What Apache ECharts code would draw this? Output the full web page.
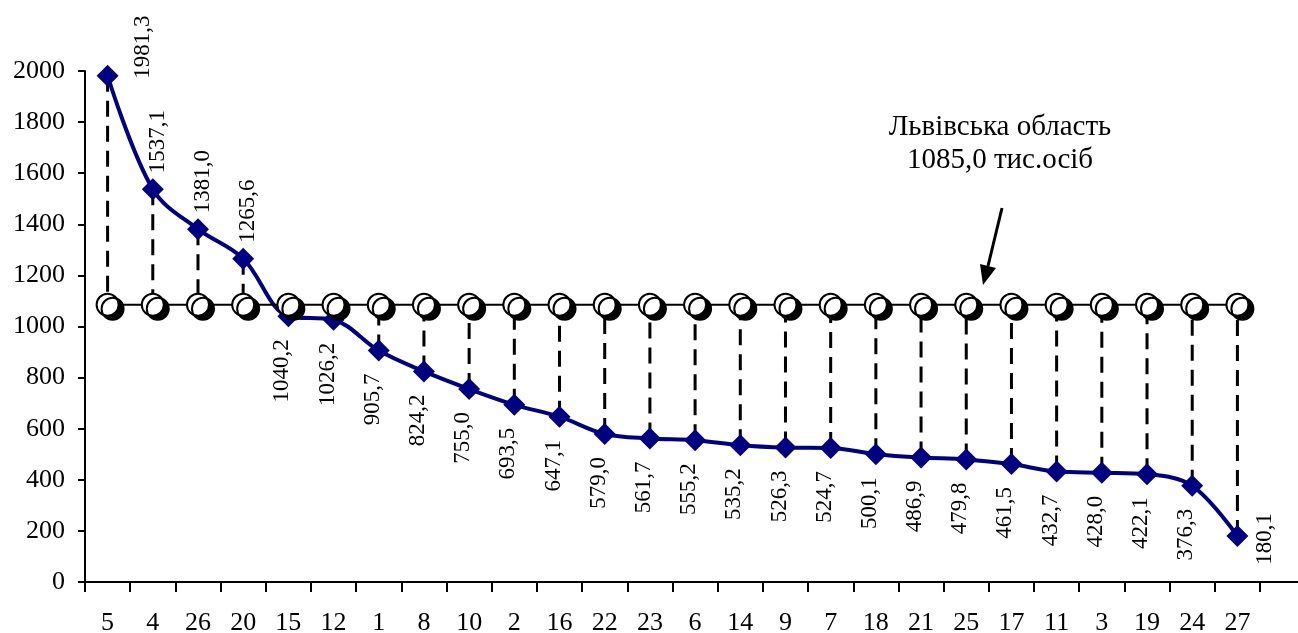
<!DOCTYPE html>
<html><head><meta charset="utf-8">
<script src="https://cdn.jsdelivr.net/npm/echarts@6/dist/echarts.min.js"></script>
<style>html,body{margin:0;padding:0;background:#fff}#c{width:1298px;height:633px}</style>
</head><body><div id="c"></div>
<script>
const categories = ['5','4','26','20','15','12','1','8','10','2','16','22','23','6','14','9','7','18','21','25','17','11','3','19','24','27'];
const values = [1981.3,1537.1,1381.0,1265.6,1040.2,1026.2,905.7,824.2,755.0,693.5,647.1,579.0,561.7,555.2,535.2,526.3,524.7,500.1,486.9,479.8,461.5,432.7,428.0,422.1,376.3,180.1];
const regionValue = 1085.0;
const annotationLines = ['Львівська область', '1085,0 тис.осіб'];
const yTicks = {min: 0, max: 2000, interval: 200};

const FONT = '"Liberation Serif", "DejaVu Serif", serif';
const regionLine = categories.map(() => regionValue);
const fmt = v => v.toFixed(1).replace('.', ',');

const labelData = values.map((v, i) => {
  let label;
  if (i === 0) {
    label = {position: 'right', rotate: 90, align: 'left', verticalAlign: 'middle', offset: [-3, 19]};
  } else if (v > regionValue) {
    label = {position: 'top', rotate: 90, align: 'left', verticalAlign: 'middle', offset: [0, 5]};
  } else if (i === values.length - 1) {
    label = {position: 'right', rotate: 90, align: 'center', verticalAlign: 'middle', offset: [-3, 12]};
  } else {
    label = {position: 'bottom', rotate: 90, align: 'right', verticalAlign: 'middle', offset: [-7, -6]};
  }
  return {value: v, label};
});

const chart = echarts.init(document.getElementById('c'));
chart.setOption({
  animation: false,
  grid: {left: 85, right: 38, top: 71, bottom: 51, containLabel: false, outerBoundsMode: 'none'},
  xAxis: {
    type: 'category', data: categories, boundaryGap: true,
    axisLine: {lineStyle: {color: '#000', width: 2}},
    axisTick: {show: true, length: 10, inside: false, lineStyle: {color: '#000', width: 2}},
    axisLabel: {color: '#000', fontFamily: FONT, fontSize: 26, margin: 28}
  },
  yAxis: {
    type: 'value', min: yTicks.min, max: yTicks.max, interval: yTicks.interval,
    splitLine: {show: false},
    axisLine: {show: true, lineStyle: {color: '#000', width: 2}},
    axisTick: {show: true, length: 7, lineStyle: {color: '#000', width: 2}},
    axisLabel: {color: '#000', fontFamily: FONT, fontSize: 26, margin: 20, formatter: v => String(v)}
  },
  series: [
    {
      type: 'custom', z: 1,
      data: values.map((v, i) => [i, v]),
      renderItem: (params, api) => {
        const i = api.value(0);
        const p1 = api.coord([i, api.value(1)]);
        const p2 = api.coord([i, regionValue]);
        return {type: 'line', shape: {x1: p1[0], y1: p1[1], x2: p2[0], y2: p2[1]},
          style: {stroke: '#000', lineWidth: 3, lineDash: [16, 9]}};
      }
    },
    {
      type: 'line', data: labelData, z: 3, smooth: 0.35,
      symbol: 'diamond', symbolSize: 22,
      lineStyle: {color: '#000080', width: 4},
      itemStyle: {color: '#000080'},
      label: {show: true, color: '#000', fontFamily: FONT, fontSize: 23,
        formatter: p => fmt(p.value)}
    },
    {
      type: 'line', data: regionLine, z: 4,
      symbol: 'circle', symbolSize: 22,
      lineStyle: {color: '#000', width: 2},
      itemStyle: {color: '#fff', borderColor: '#000', borderWidth: 2,
        shadowColor: '#000', shadowBlur: 0, shadowOffsetX: 5, shadowOffsetY: 4}
    }
  ],
  graphic: [
    {type: 'text', x: 1000, y: 144, z: 10, style: {text: annotationLines.join('\n'), font: '29px ' + FONT,
      fill: '#000', align: 'center', verticalAlign: 'middle', lineHeight: 33}},
    {type: 'line', shape: {x1: 1002, y1: 208, x2: 988, y2: 266}, style: {stroke: '#000', lineWidth: 3}},
    {type: 'polygon', shape: {points: [[983, 285], [980, 264], [996, 268]]}, style: {fill: '#000'}},
    {type: 'line', shape: {x1: 1260, y1: 582, x2: 1298, y2: 582}, style: {stroke: '#000', lineWidth: 2}}
  ]
});
</script></body></html>
